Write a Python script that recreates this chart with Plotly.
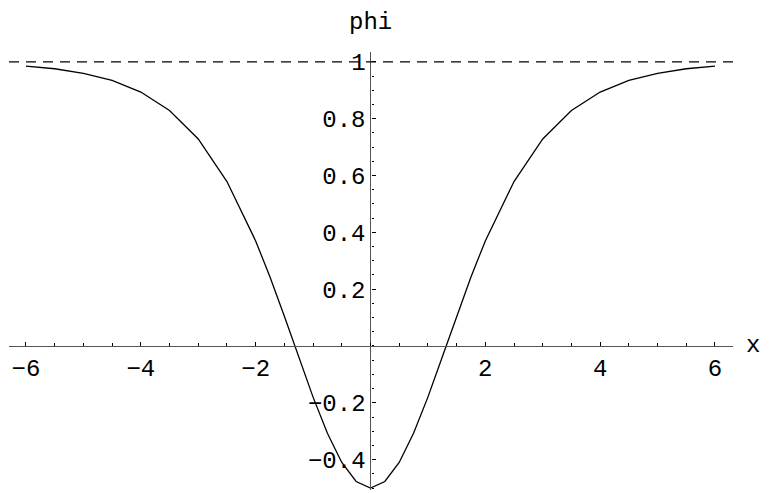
import plotly.graph_objects as go

# curve phi(x), values
x_vals = [-6, -5.5, -5, -4.5, -4, -3.5, -3, -2.5, -2, -1.75, -1.5, -1.25, -1, -0.75, -0.5, -0.25,
          0, 0.25, 0.5, 0.75, 1, 1.25, 1.5, 1.75, 2, 2.5, 3, 3.5, 4, 4.5, 5, 5.5, 6]
phi_vals = [0.985, 0.976, 0.960, 0.935, 0.894, 0.829, 0.729, 0.579, 0.370, 0.243, 0.105, -0.039,
            -0.180, -0.307, -0.410, -0.477,
            -0.500,
            -0.477, -0.410, -0.307, -0.180, -0.039, 0.105, 0.243, 0.370, 0.579, 0.729, 0.829,
            0.894, 0.935, 0.960, 0.976, 0.985]

ref_level = 1

x_ticks = [-6, -4, -2, 2, 4, 6]
x_tick_text = ["\u22126", "\u22124", "\u22122", "2", "4", "6"]
y_ticks = [-0.4, -0.2, 0.2, 0.4, 0.6, 0.8, 1]
y_tick_text = ["\u22120.4", "\u22120.2", "0.2", "0.4", "0.6", "0.8", "1"]

X_RANGE = [-6.296, 6.314]
Y_RANGE = [-0.507, 1.035]
FONT = "Liberation Mono, Courier New, monospace"

fig = go.Figure()

fig.add_trace(go.Scatter(
    x=x_vals, y=phi_vals, mode="lines",
    line=dict(color="black", width=1.3),
    cliponaxis=False,
    showlegend=False, hoverinfo="skip",
))

fig.add_hline(y=ref_level, line=dict(color="black", width=1.2, dash="10px,7px"))

# axes cross at the origin, like a Mathematica Plot
x_pos = (0 - X_RANGE[0]) / (X_RANGE[1] - X_RANGE[0])
y_pos = (0 - Y_RANGE[0]) / (Y_RANGE[1] - Y_RANGE[0])

fig.update_xaxes(
    range=X_RANGE, anchor="free", position=y_pos, automargin=False,
    showgrid=False, zeroline=False,
    showline=True, linecolor="#555", linewidth=1.3,
    tickvals=x_ticks, ticktext=x_tick_text,
    ticks="inside", ticklen=4, tickcolor="black", tickwidth=1,
    minor=dict(ticks="inside", ticklen=2.5, dtick=0.5, tickcolor="black", showgrid=False),
    tickfont=dict(family=FONT, size=24, color="black"),
)
fig.update_yaxes(
    range=Y_RANGE, anchor="free", position=x_pos, automargin=False,
    showgrid=False, zeroline=False,
    showline=True, linecolor="#555", linewidth=1.3,
    tickvals=y_ticks, ticktext=y_tick_text,
    ticks="inside", ticklen=4, tickcolor="black", tickwidth=1,
    minor=dict(ticks="inside", ticklen=2.5, dtick=0.05, tickcolor="black", showgrid=False),
    tickfont=dict(family=FONT, size=24, color="black"),
)

# axis labels (paper coords: placed outside the plotting area)
fig.add_annotation(x=x_pos, y=1, xref="paper", yref="paper", yshift=30,
                   text="phi", showarrow=False, xanchor="center", yanchor="middle",
                   font=dict(family=FONT, size=24, color="black"))
fig.add_annotation(x=1, y=y_pos, xref="paper", yref="paper", xshift=20,
                   text="x", showarrow=False, xanchor="center", yanchor="middle",
                   font=dict(family=FONT, size=24, color="black"))

# page body has an 8px margin, so the figure is shrunk by that much
fig.update_layout(
    width=762, height=485,
    margin=dict(l=1, r=37, t=44, b=3),
    paper_bgcolor="white", plot_bgcolor="white",
)

fig.write_html("out.html")
